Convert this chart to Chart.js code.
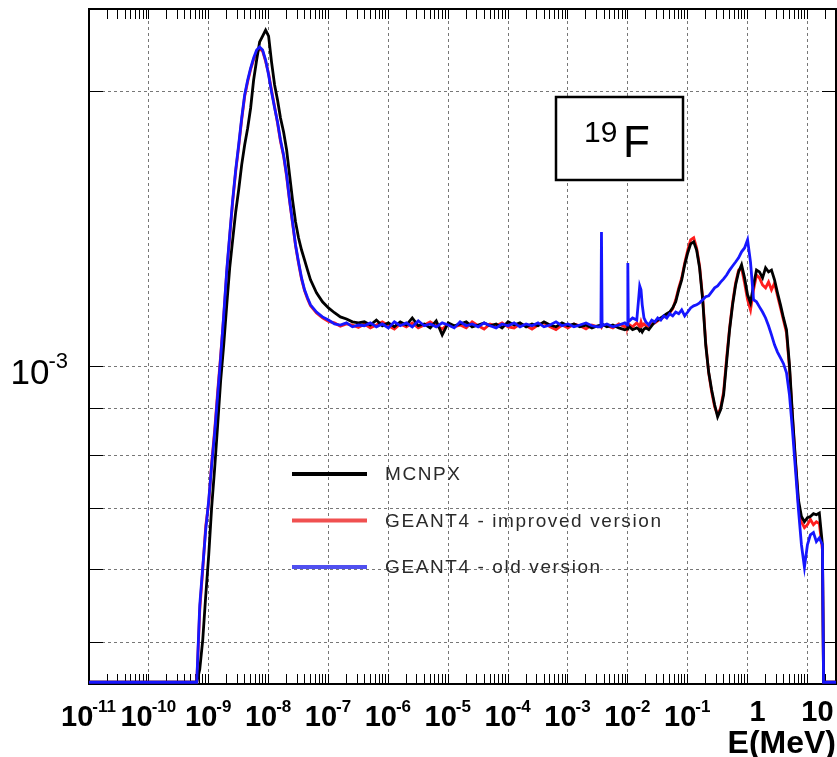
<!DOCTYPE html>
<html>
<head>
<meta charset="utf-8">
<title>19F neutron spectrum</title>
<script src="https://cdn.jsdelivr.net/npm/chart.js@4/dist/chart.umd.min.js"></script>
<style>
	html, body { margin: 0; padding: 0; background: #fff; }
	canvas { display: block; }
</style>
</head>
<body>
<canvas id="spectrum" width="837" height="757"></canvas>
<script>
( function () {
	'use strict';

	// Bin energies (MeV).
	var energies = [
		1e-11, 1e-10, 5.01e-10,
		6.31e-10, 7.08e-10, 7.94e-10, 8.91e-10, 1.00e-9, 1.12e-9, 1.26e-9, 1.41e-9, 1.58e-9, 1.78e-9,
		2.00e-9, 2.24e-9, 2.51e-9, 2.82e-9, 3.16e-9, 3.55e-9, 3.98e-9, 4.47e-9, 5.01e-9, 5.62e-9,
		6.31e-9, 7.08e-9, 7.94e-9, 8.91e-9, 1.00e-8, 1.12e-8, 1.26e-8, 1.41e-8, 1.58e-8, 1.78e-8,
		2.00e-8, 2.24e-8, 2.51e-8, 2.82e-8, 3.16e-8, 3.55e-8, 3.98e-8, 4.47e-8, 5.01e-8,
		6.31e-8, 7.94e-8, 1.0e-7, 1.26e-7, 1.58e-7, 2.0e-7, 2.51e-7, 3.16e-7,
		3.98e-7, 5.01e-7, 6.31e-7, 7.94e-7, 1e-6, 1.26e-6, 1.58e-6, 2e-6, 2.51e-6, 3.16e-6,
		3.98e-6, 5.01e-6, 6.31e-6, 7.94e-6, 1e-5, 1.26e-5, 1.58e-5, 2e-5, 2.51e-5, 3.16e-5,
		3.98e-5, 5.01e-5, 6.31e-5, 7.94e-5, 1e-4, 1.26e-4, 1.58e-4, 2e-4, 2.51e-4, 3.16e-4,
		3.98e-4, 5.01e-4, 6.31e-4, 7.94e-4, 1e-3, 1.26e-3, 1.58e-3, 2e-3, 2.51e-3, 3.16e-3,
		3.55e-3, 3.63e-3, 3.72e-3, 4.47e-3, 5.62e-3, 7.08e-3, 8.91e-3, 9.77e-3, 1.0e-2, 1.02e-2,
		1.2e-2, 1.41e-2, 1.51e-2, 1.58e-2, 1.66e-2, 1.74e-2, 1.86e-2,
		2.0e-2, 2.24e-2, 2.51e-2, 2.82e-2, 3.16e-2, 3.55e-2, 3.98e-2, 4.47e-2, 5.01e-2, 5.62e-2,
		6.31e-2, 7.08e-2, 7.94e-2, 8.91e-2, 0.1, 0.112, 0.126, 0.141, 0.158, 0.178,
		0.2, 0.224, 0.251, 0.282, 0.316, 0.355, 0.398, 0.447, 0.501, 0.562,
		0.631, 0.708, 0.794, 0.891, 1.0, 1.12, 1.26, 1.41, 1.58, 1.78,
		2.0, 2.24, 2.51, 2.82, 3.16, 3.55, 3.98, 4.47, 5.01, 5.62,
		6.31, 7.08, 7.94, 8.91, 10, 11.2, 12.6, 14.1, 15.8, 17.8,
		18.6, 20, 30
	];

	var mcnpx = [
		4.52e-4, 4.52e-4, 4.52e-4,
		4.52e-4, 4.67e-4, 5.03e-4, 5.62e-4, 6.23e-4, 7.03e-4, 7.77e-4, 8.64e-4, 9.65e-4, 1.057e-3,
		1.169e-3, 1.283e-3, 1.377e-3, 1.477e-3, 1.561e-3, 1.663e-3, 1.748e-3, 1.824e-3, 1.919e-3, 2.059e-3,
		2.165e-3, 2.266e-3, 2.300e-3, 2.335e-3, 2.300e-3, 2.154e-3, 2.033e-3, 1.958e-3, 1.871e-3, 1.806e-3,
		1.726e-3, 1.621e-3, 1.522e-3, 1.440e-3, 1.384e-3, 1.342e-3, 1.309e-3, 1.276e-3, 1.245e-3,
		1.205e-3, 1.178e-3, 1.160e-3, 1.146e-3, 1.134e-3, 1.128e-3, 1.120e-3, 1.117e-3,
		1.120e-3, 1.111e-3, 1.125e-3, 1.109e-3, 1.117e-3, 1.106e-3, 1.120e-3, 1.111e-3, 1.131e-3, 1.109e-3,
		1.114e-3, 1.103e-3, 1.123e-3, 1.084e-3, 1.117e-3, 1.109e-3, 1.114e-3, 1.120e-3, 1.106e-3, 1.111e-3,
		1.117e-3, 1.109e-3, 1.114e-3, 1.103e-3, 1.120e-3, 1.111e-3, 1.117e-3, 1.106e-3, 1.114e-3, 1.109e-3,
		1.120e-3, 1.111e-3, 1.106e-3, 1.117e-3, 1.109e-3, 1.114e-3, 1.106e-3, 1.111e-3, 1.103e-3, 1.109e-3,
		1.111e-3, 1.109e-3, 1.114e-3, 1.106e-3, 1.111e-3, 1.103e-3, 1.098e-3, 1.100e-3, 1.106e-3, 1.109e-3,
		1.098e-3, 1.103e-3, 1.100e-3, 1.095e-3, 1.098e-3, 1.092e-3, 1.100e-3,
		1.103e-3, 1.098e-3, 1.109e-3, 1.120e-3, 1.125e-3, 1.131e-3, 1.137e-3, 1.143e-3, 1.148e-3, 1.160e-3,
		1.178e-3, 1.214e-3, 1.245e-3, 1.293e-3, 1.332e-3, 1.363e-3, 1.370e-3, 1.342e-3, 1.283e-3, 1.184e-3,
		1.057e-3, 0.987e-3, 0.944e-3, 0.909e-3, 0.882e-3, 0.898e-3, 0.932e-3, 1.013e-3, 1.098e-3, 1.169e-3,
		1.229e-3, 1.270e-3, 1.293e-3, 1.251e-3, 1.199e-3, 1.175e-3, 1.229e-3, 1.276e-3, 1.270e-3, 1.251e-3,
		1.283e-3, 1.270e-3, 1.276e-3, 1.245e-3, 1.205e-3, 1.169e-3, 1.131e-3, 1.098e-3, 1.005e-3, 0.886e-3,
		0.791e-3, 0.715e-3, 0.686e-3, 0.677e-3, 0.684e-3, 0.686e-3, 0.691e-3, 0.689e-3, 0.692e-3, 0.639e-3,
		4.52e-4, 4.52e-4, 4.52e-4
	];

	var geantImproved = [
		4.52e-4, 4.52e-4, 4.52e-4,
		4.52e-4, 5.42e-4, 6.00e-4, 6.70e-4, 7.10e-4, 7.86e-4, 8.55e-4, 9.40e-4, 1.028e-3, 1.135e-3,
		1.270e-3, 1.388e-3, 1.515e-3, 1.636e-3, 1.740e-3, 1.862e-3, 1.975e-3, 2.050e-3, 2.115e-3, 2.168e-3,
		2.205e-3, 2.228e-3, 2.214e-3, 2.158e-3, 2.092e-3, 2.005e-3, 1.925e-3, 1.846e-3, 1.764e-3, 1.700e-3,
		1.615e-3, 1.518e-3, 1.436e-3, 1.356e-3, 1.298e-3, 1.247e-3, 1.212e-3, 1.186e-3, 1.166e-3,
		1.145e-3, 1.131e-3, 1.121e-3, 1.117e-3, 1.108e-3, 1.114e-3, 1.111e-3, 1.104e-3,
		1.114e-3, 1.103e-3, 1.111e-3, 1.120e-3, 1.109e-3, 1.100e-3, 1.114e-3, 1.106e-3, 1.117e-3, 1.103e-3,
		1.111e-3, 1.120e-3, 1.109e-3, 1.100e-3, 1.114e-3, 1.106e-3, 1.111e-3, 1.103e-3, 1.120e-3, 1.109e-3,
		1.100e-3, 1.114e-3, 1.109e-3, 1.117e-3, 1.106e-3, 1.103e-3, 1.114e-3, 1.109e-3, 1.100e-3, 1.111e-3,
		1.117e-3, 1.106e-3, 1.098e-3, 1.111e-3, 1.103e-3, 1.114e-3, 1.109e-3, 1.100e-3, 1.111e-3, 1.106e-3,
		1.109e-3, 1.106e-3, 1.111e-3, 1.109e-3, 1.103e-3, 1.114e-3, 1.106e-3, 1.111e-3, 1.109e-3, 1.114e-3,
		1.106e-3, 1.117e-3, 1.111e-3, 1.106e-3, 1.120e-3, 1.109e-3, 1.114e-3,
		1.109e-3, 1.106e-3, 1.114e-3, 1.117e-3, 1.123e-3, 1.128e-3, 1.134e-3, 1.140e-3, 1.146e-3, 1.157e-3,
		1.184e-3, 1.220e-3, 1.251e-3, 1.299e-3, 1.342e-3, 1.377e-3, 1.384e-3, 1.349e-3, 1.289e-3, 1.190e-3,
		1.062e-3, 0.985e-3, 0.939e-3, 0.904e-3, 0.886e-3, 0.902e-3, 0.939e-3, 1.023e-3, 1.103e-3, 1.175e-3,
		1.235e-3, 1.276e-3, 1.283e-3, 1.235e-3, 1.184e-3, 1.154e-3, 1.214e-3, 1.260e-3, 1.251e-3, 1.229e-3,
		1.220e-3, 1.238e-3, 1.214e-3, 1.235e-3, 1.196e-3, 1.160e-3, 1.125e-3, 1.089e-3, 0.997e-3, 0.880e-3,
		0.787e-3, 0.707e-3, 0.677e-3, 0.667e-3, 0.672e-3, 0.681e-3, 0.672e-3, 0.677e-3, 0.674e-3, 0.631e-3,
		4.52e-4, 4.52e-4, 4.52e-4
	];

	var geantOld = [
		4.52e-4, 4.52e-4, 4.52e-4,
		4.52e-4, 5.49e-4, 6.04e-4, 6.64e-4, 7.15e-4, 7.81e-4, 8.49e-4, 9.32e-4, 1.023e-3, 1.140e-3,
		1.276e-3, 1.394e-3, 1.522e-3, 1.642e-3, 1.748e-3, 1.871e-3, 1.983e-3, 2.059e-3, 2.122e-3, 2.176e-3,
		2.220e-3, 2.237e-3, 2.220e-3, 2.165e-3, 2.085e-3, 1.998e-3, 1.919e-3, 1.852e-3, 1.770e-3, 1.705e-3,
		1.621e-3, 1.522e-3, 1.440e-3, 1.359e-3, 1.302e-3, 1.251e-3, 1.214e-3, 1.190e-3, 1.169e-3,
		1.148e-3, 1.134e-3, 1.125e-3, 1.114e-3, 1.111e-3, 1.117e-3, 1.106e-3, 1.111e-3,
		1.109e-3, 1.117e-3, 1.106e-3, 1.114e-3, 1.103e-3, 1.120e-3, 1.109e-3, 1.117e-3, 1.106e-3, 1.123e-3,
		1.109e-3, 1.114e-3, 1.106e-3, 1.117e-3, 1.111e-3, 1.103e-3, 1.120e-3, 1.109e-3, 1.114e-3, 1.106e-3,
		1.117e-3, 1.109e-3, 1.103e-3, 1.114e-3, 1.109e-3, 1.117e-3, 1.106e-3, 1.114e-3, 1.109e-3, 1.117e-3,
		1.106e-3, 1.111e-3, 1.120e-3, 1.109e-3, 1.114e-3, 1.106e-3, 1.111e-3, 1.117e-3, 1.109e-3, 1.106e-3,
		1.106e-3, 1.404e-3, 1.109e-3, 1.114e-3, 1.106e-3, 1.111e-3, 1.117e-3, 1.111e-3, 1.299e-3, 1.120e-3,
		1.131e-3, 1.125e-3, 1.184e-3, 1.226e-3, 1.214e-3, 1.169e-3, 1.131e-3,
		1.120e-3, 1.111e-3, 1.125e-3, 1.120e-3, 1.131e-3, 1.125e-3, 1.137e-3, 1.131e-3, 1.143e-3, 1.137e-3,
		1.148e-3, 1.143e-3, 1.154e-3, 1.137e-3, 1.148e-3, 1.160e-3, 1.166e-3, 1.169e-3, 1.175e-3, 1.184e-3,
		1.193e-3, 1.196e-3, 1.208e-3, 1.220e-3, 1.226e-3, 1.238e-3, 1.248e-3, 1.260e-3, 1.276e-3, 1.289e-3,
		1.302e-3, 1.316e-3, 1.336e-3, 1.349e-3, 1.377e-3, 1.302e-3, 1.184e-3, 1.178e-3, 1.163e-3, 1.148e-3,
		1.131e-3, 1.109e-3, 1.084e-3, 1.057e-3, 1.038e-3, 1.023e-3, 1.008e-3, 0.985e-3, 0.932e-3, 0.853e-3,
		0.772e-3, 0.698e-3, 0.639e-3, 0.604e-3, 0.639e-3, 0.655e-3, 0.659e-3, 0.644e-3, 0.650e-3, 0.639e-3,
		4.52e-4, 4.52e-4, 4.52e-4
	];

	// Decade tick labels: base text plus raised exponent (ROOT style).
	var xTickValues    = [ 1e-11, 1e-10, 1e-9, 1e-8, 1e-7, 1e-6, 1e-5, 1e-4, 1e-3, 1e-2, 1e-1, 1, 10 ];
	var xTickBases     = [ '10', '10', '10', '10', '10', '10', '10', '10', '10', '10', '10', '1', '10' ];
	var xTickExponents = [ '-11', '-10', '-9', '-8', '-7', '-6', '-5', '-4', '-3', '-2', '-1', '', '' ];
	var yTickValues    = [ 5e-4, 6e-4, 7e-4, 8e-4, 9e-4, 1e-3, 2e-3 ];
	var yLabelValue    = 1e-3;
	var yLabelBase     = '10';
	var yLabelExponent = '-3';

	var X_MIN = 1e-11;
	var X_MAX = 30;
	var Y_MIN = 4.5e-4;
	var Y_MAX = 2.462e-3;

	var COLORS = {
		mcnpx:    '#000000',
		improved: '#ff1e1e',
		old:      '#1616ff',
		grid:     '#777777',
	};
	var LEGEND_COLORS = [ '#000000', '#f05050', '#5050f0' ];
	var FONT = '"Liberation Sans", Arial, Helvetica, sans-serif';

	// Minor tick positions 1..9 x each decade, as ROOT draws them.
	var xAllTicks = [];
	xTickValues.forEach( function ( d ) {
		xAllTicks.push( d );
		for ( var m = 2; m <= 9; m++ ) {
			if ( d * m <= 20 ) {
				xAllTicks.push( d * m );
			}
		}
	} );

	function setTicks( list ) {
		return function ( axis ) {
			axis.ticks = list.map( function ( v ) { return { value: v }; } );
		};
	}

	// Pin an axis box to a fixed size and drop the label overhang padding.
	function fixSize( prop, size ) {
		return function ( axis ) {
			axis[ prop ] = size;
			axis.paddingTop    = 0;
			axis.paddingBottom = 0;
			axis.paddingLeft   = 0;
			axis.paddingRight  = 0;
		};
	}

	function isDecade( v ) {
		return xTickValues.indexOf( v ) !== -1;
	}

	function drawPower( ctx, base, exp, baseFont, expFont, x, y, rise ) {
		ctx.font = baseFont;
		var wb = ctx.measureText( base ).width;
		ctx.fillText( base, x, y );
		if ( exp ) {
			ctx.font = expFont;
			ctx.fillText( exp, x + wb - 1, y - rise );
		}
	}

	var powerLabels = {
		id: 'powerLabels',
		afterDraw: function ( chart ) {
			var xs  = chart.scales.x;
			var ys  = chart.scales.y;
			var ctx = chart.ctx;
			var base = 'bold 29px ' + FONT;
			var sup  = 'bold 17px ' + FONT;
			ctx.save();
			ctx.fillStyle    = '#000';
			ctx.textAlign    = 'left';
			ctx.textBaseline = 'alphabetic';

			xTickValues.forEach( function ( v, i ) {
				var px = xs.getPixelForValue( v );
				var b  = xTickBases[ i ];
				var e  = xTickExponents[ i ];
				ctx.font = base;
				var wb = ctx.measureText( b ).width;
				ctx.font = sup;
				var we = e ? ctx.measureText( e ).width : 0;
				var x  = px - ( wb + we ) / 2;
				var y  = xs.top + 42;
				if ( ! e ) {
					x += 10;
					y -= 5;
				}
				drawPower( ctx, b, e, base, sup, x, y, 14 );
			} );

			// y axis: only the 10^-3 decade is labelled
			var py = ys.getPixelForValue( yLabelValue );
			ctx.font = '22px ' + FONT;
			var wExp = ctx.measureText( yLabelExponent ).width;
			ctx.font = '35px ' + FONT;
			var wBase = ctx.measureText( yLabelBase ).width;
			drawPower( ctx, yLabelBase, yLabelExponent, '35px ' + FONT, '22px ' + FONT,
				ys.right - 20 - wBase - wExp, py + 17, 16 );
			ctx.restore();
		},
	};

	var insetLegend = {
		id: 'insetLegend',
		afterDatasetsDraw: function ( chart ) {
			var ctx  = chart.ctx;
			var area = chart.chartArea;
			var x0   = area.left + 203;
			var y0   = area.top + 465;
			ctx.save();
			ctx.font = '19px ' + FONT;
			ctx.textBaseline = 'middle';
			if ( 'letterSpacing' in ctx ) {
				ctx.letterSpacing = '1.6px';
			}
			chart.data.datasets.forEach( function ( ds, i ) {
				var y = y0 + i * 46.5;
				ctx.strokeStyle = LEGEND_COLORS[ i ];
				ctx.lineWidth   = 4;
				ctx.beginPath();
				ctx.moveTo( x0, y );
				ctx.lineTo( x0 + 75, y );
				ctx.stroke();
				ctx.fillStyle = '#2a2a2a';
				ctx.fillText( ds.label, x0 + 93, y + 1 );
			} );
			ctx.restore();
		},
	};

	var isotopeBox = {
		id: 'isotopeBox',
		afterDatasetsDraw: function ( chart ) {
			var ctx  = chart.ctx;
			var area = chart.chartArea;
			var bx = area.left + 467;
			var by = area.top + 88;
			ctx.save();
			ctx.fillStyle = '#fff';
			ctx.fillRect( bx, by, 127, 83 );
			ctx.strokeStyle = '#000';
			ctx.lineWidth   = 2.5;
			ctx.strokeRect( bx, by, 127, 83 );
			ctx.fillStyle    = '#000';
			ctx.textBaseline = 'alphabetic';
			ctx.font = '30px ' + FONT;
			ctx.fillText( '19', bx + 28, by + 45 );
			ctx.font = '44px ' + FONT;
			ctx.fillText( 'F', bx + 67, by + 60 );
			ctx.restore();
		},
	};

	function lineSet( label, data, color, order ) {
		return {
			label:       label,
			data:        data,
			borderColor: color,
			borderWidth: 2.8,
			pointRadius: 0,
			tension:     0,
			fill:        false,
			order:       order,
			xAxisID:     'x',
			yAxisID:     'y',
		};
	}

	new Chart( document.getElementById( 'spectrum' ), {
		type: 'line',
		data: {
			labels:   energies,
			datasets: [
				lineSet( 'MCNPX', mcnpx, COLORS.mcnpx, 1 ),
				lineSet( 'GEANT4 - improved version', geantImproved, COLORS.improved, 2 ),
				lineSet( 'GEANT4 - old version', geantOld, COLORS.old, 0 ),
			],
		},
		options: {
			responsive: false,
			animation:  false,
			events:     [],
			layout:     { padding: 0 },
			plugins:    {
				legend:  { display: false },
				tooltip: { enabled: false },
			},
			scales: {
				x: {
					type:     'logarithmic',
					position: 'bottom',
					min:      X_MIN,
					max:      X_MAX,
					afterBuildTicks: setTicks( xAllTicks ),
					afterFit: fixSize( 'height', 73 ),
					ticks: { display: false },
					grid: {
						color: function ( c ) {
							return c.tick && isDecade( c.tick.value ) ? COLORS.grid : 'rgba(0,0,0,0)';
						},
						lineWidth:  1,
						tickColor:  '#000',
						tickLength: -10,
					},
					border: { display: true, color: '#000', width: 2, dash: [ 3, 3 ] },
					title: {
						display: true,
						text:    'E(MeV)',
						align:   'end',
						color:   '#000',
						font:    { family: FONT, size: 32, weight: 'bold', lineHeight: 1 },
						padding: { top: 0, bottom: -3 },
					},
				},
				x2: {
					type:     'logarithmic',
					position: 'top',
					min:      X_MIN,
					max:      X_MAX,
					afterBuildTicks: setTicks( xAllTicks ),
					afterFit: fixSize( 'height', 9 ),
					ticks:  { display: false },
					grid:   { drawOnChartArea: false, tickColor: '#000', tickLength: -10 },
					border: { display: true, color: '#000', width: 2 },
				},
				y: {
					type:     'logarithmic',
					position: 'left',
					min:      Y_MIN,
					max:      Y_MAX,
					afterBuildTicks: setTicks( yTickValues ),
					afterFit: fixSize( 'width', 89 ),
					ticks: { display: false },
					grid: {
						color:      COLORS.grid,
						lineWidth:  1,
						tickColor:  '#000',
						tickLength: -14,
					},
					border: { display: true, color: '#000', width: 2, dash: [ 3, 3 ] },
				},
				y2: {
					type:     'logarithmic',
					position: 'right',
					min:      Y_MIN,
					max:      Y_MAX,
					afterBuildTicks: setTicks( yTickValues ),
					afterFit: fixSize( 'width', 1 ),
					ticks:  { display: false },
					grid:   { drawOnChartArea: false, tickColor: '#000', tickLength: -14 },
					border: { display: true, color: '#000', width: 2 },
				},
			},
		},
		plugins: [ insetLegend, isotopeBox, powerLabels ],
	} );
} )();
</script>
</body>
</html>
